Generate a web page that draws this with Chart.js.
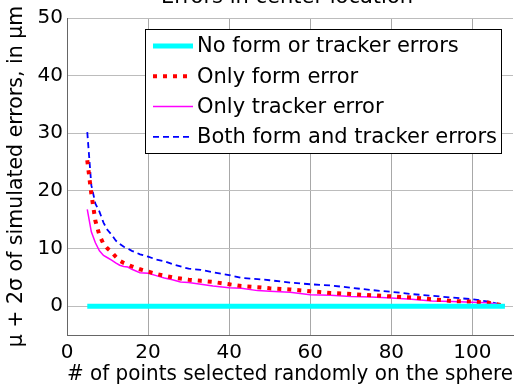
<!DOCTYPE html>
<html>
<head>
    <title>Errors in center location</title>
    <script src="https://cdn.jsdelivr.net/npm/chart.js"></script>
    <style>
        body { margin: 0; background: #fff; }
    </style>
</head>
<body>
    <canvas id="errChart" width="527" height="390"></canvas>
    <script>
        // number of points selected on the sphere
        var points = [5, 6, 7, 8, 9, 10, 11, 12, 13, 14, 15, 16, 18, 20, 22, 24, 26, 28, 30, 33, 36, 40, 43, 47, 50, 55, 60, 65, 70, 75, 80, 85, 90, 95, 100, 104, 108];

        var noErrors = [0, 0, 0, 0, 0, 0, 0, 0, 0, 0, 0, 0, 0, 0, 0, 0, 0, 0, 0, 0, 0, 0, 0, 0, 0, 0, 0, 0, 0, 0, 0, 0, 0, 0, 0, 0, 0];
        var formOnly = [25.3, 19.5, 14.8, 12.3, 10.8, 10.0, 9.4, 8.6, 7.9, 7.5, 7.2, 6.9, 6.4, 6.0, 5.6, 5.3, 5.0, 4.8, 4.6, 4.4, 4.2, 3.8, 3.5, 3.3, 3.1, 2.9, 2.6, 2.3, 2.1, 1.9, 1.7, 1.5, 1.2, 0.9, 0.8, 0.6, 0.1];
        var trackerOnly = [16.8, 12.9, 11.0, 9.6, 8.8, 8.4, 8.0, 7.5, 7.1, 6.9, 6.8, 6.4, 5.8, 5.7, 5.3, 4.9, 4.6, 4.2, 4.1, 3.8, 3.5, 3.2, 3.1, 2.7, 2.6, 2.4, 2.0, 1.9, 1.7, 1.6, 1.4, 1.2, 0.9, 0.8, 0.7, 0.6, 0.1];
        var bothErrors = [30.2, 21.0, 17.8, 16.4, 14.5, 13.2, 12.4, 11.4, 10.8, 10.3, 10.0, 9.6, 9.0, 8.6, 8.1, 7.8, 7.3, 6.9, 6.5, 6.3, 5.9, 5.4, 4.9, 4.7, 4.5, 4.1, 3.8, 3.6, 3.2, 2.8, 2.5, 2.1, 1.8, 1.5, 1.2, 0.8, 0.1];

        var xTicks = [0, 20, 40, 60, 80, 100];
        var yTicks = [0, 10, 20, 30, 40, 50];

        var seriesNames = ['No form or tracker errors', 'Only form error', 'Only tracker error', 'Both form and tracker errors'];

        var FONT = 'DejaVu Sans';

        function toXY(ys) {
            return points.map(function (p, i) { return { x: p, y: ys[i] }; });
        }

        // legend box drawn inside the plot, like the matlab one
        var boxLegend = {
            id: 'boxLegend',
            afterDraw: function (chart) {
                var c = chart.ctx;
                var bx = 145, by = 29, bw = 356, bh = 124;
                c.save();
                c.fillStyle = '#fff';
                c.fillRect(bx, by, bw, bh);
                c.strokeStyle = '#000';
                c.lineWidth = 1;
                c.setLineDash([]);
                c.strokeRect(bx + 0.5, by + 0.5, bw, bh);
                c.font = '21px "' + FONT + '"';
                c.fillStyle = '#000';
                c.textBaseline = 'middle';
                chart.data.datasets.forEach(function (ds, i) {
                    var y = 46 + i * 30.3;
                    c.strokeStyle = ds.borderColor;
                    c.lineWidth = ds.borderWidth;
                    c.setLineDash(ds.borderDash || []);
                    c.beginPath();
                    c.moveTo(153, y);
                    c.lineTo(193, y);
                    c.stroke();
                    c.setLineDash([]);
                    c.fillText(ds.label, 197, y + 1);
                });
                // title, mostly outside the picture
                c.textAlign = 'center';
                c.textBaseline = 'alphabetic';
                c.fillText('Errors in center location', 287, 3);
                c.restore();
            }
        };

        var ctx = document.getElementById('errChart').getContext('2d');

        var errChart = new Chart(ctx, {
            type: 'line',
            data: {
                datasets: [{
                    label: seriesNames[0],
                    data: toXY(noErrors),
                    borderColor: '#00ffff',
                    borderWidth: 5
                }, {
                    label: seriesNames[1],
                    data: toXY(formOnly),
                    borderColor: '#ff0000',
                    borderWidth: 4,
                    borderDash: [4, 6]
                }, {
                    label: seriesNames[2],
                    data: toXY(trackerOnly),
                    borderColor: '#ff00ff',
                    borderWidth: 1.5
                }, {
                    label: seriesNames[3],
                    data: toXY(bothErrors),
                    borderColor: '#0000ff',
                    borderWidth: 1.8,
                    borderDash: [6, 4]
                }]
            },
            options: {
                responsive: false,
                animation: false,
                layout: { padding: { top: 18, right: 14, left: 0, bottom: 0 } },
                elements: { point: { radius: 0 }, line: { tension: 0 } },
                plugins: {
                    legend: { display: false },
                    tooltip: { enabled: false }
                },
                scales: {
                    x: {
                        type: 'linear',
                        min: 0,
                        max: 110,
                        afterBuildTicks: function (s) { s.ticks = xTicks.map(function (v) { return { value: v }; }); },
                        afterFit: function (s) { s.height = 55; },
                        grid: { color: '#a8a8a8', drawTicks: false },
                        border: { color: '#666' },
                        ticks: { color: '#000', padding: 6, font: { family: FONT, size: 20 } },
                        title: {
                            display: true,
                            text: '# of points selected randomly on the sphere',
                            color: '#000',
                            padding: { top: 0, bottom: 3 },
                            font: { family: FONT, size: 20.5 }
                        }
                    },
                    y: {
                        min: -5,
                        max: 50,
                        afterBuildTicks: function (s) { s.ticks = yTicks.map(function (v) { return { value: v }; }); },
                        afterFit: function (s) { s.width = 67; },
                        grid: { color: '#bcbcbc', drawTicks: false },
                        border: { color: '#666' },
                        ticks: { color: '#000', padding: 4, font: { family: FONT, size: 20 } },
                        title: {
                            display: true,
                            text: 'μ + 2σ of simulated errors, in μm',
                            color: '#000',
                            padding: { top: 4, bottom: 0 },
                            font: { family: FONT, size: 20.5 }
                        }
                    }
                }
            },
            plugins: [boxLegend]
        });
    </script>
</body>
</html>
